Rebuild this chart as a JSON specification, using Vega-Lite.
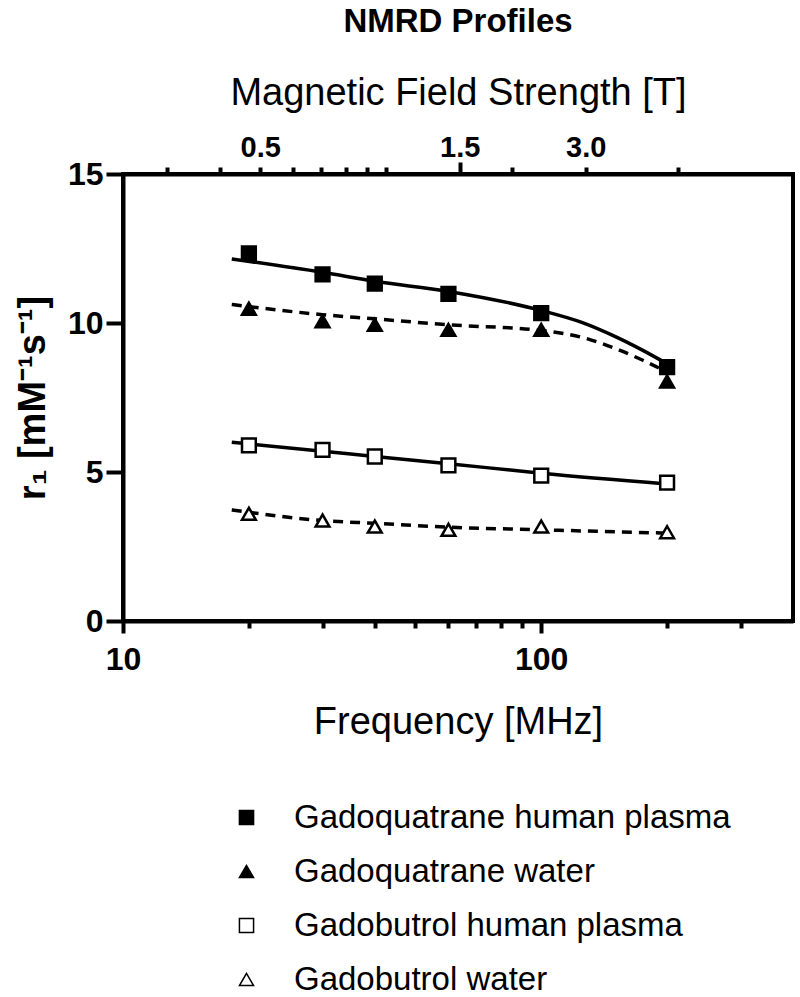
{
  "$schema": "https://vega.github.io/schema/vega-lite/v6.json",
  "autosize": {"type": "none"},
  "padding": {"left": 123, "top": 174, "right": 7, "bottom": 376},
  "width": 670,
  "height": 447,
  "title": {"text": "NMRD Profiles", "fontSize": 33, "fontWeight": "bold", "font": "Liberation Sans", "anchor": "middle", "offset": 35, "color": "black"},
  "config": {
    "font": "Liberation Sans",
    "view": {"stroke": "black", "strokeWidth": 4},
    "axis": {"domainColor": "black", "domainWidth": 4, "tickColor": "black", "tickWidth": 4, "labelColor": "black", "titleColor": "black", "grid": false, "labelFont": "Liberation Sans", "titleFont": "Liberation Sans", "labelFlush": false}
  },
  "datasets": {
    "points": [
      {"series": "Gadoquatrane human plasma", "freq": 20, "r1": 12.34},
      {"series": "Gadoquatrane human plasma", "freq": 30, "r1": 11.63},
      {"series": "Gadoquatrane human plasma", "freq": 40, "r1": 11.32},
      {"series": "Gadoquatrane human plasma", "freq": 60, "r1": 10.98},
      {"series": "Gadoquatrane human plasma", "freq": 100, "r1": 10.33},
      {"series": "Gadoquatrane human plasma", "freq": 200, "r1": 8.52},
      {"series": "Gadoquatrane water", "freq": 20, "r1": 10.48},
      {"series": "Gadoquatrane water", "freq": 30, "r1": 10.06},
      {"series": "Gadoquatrane water", "freq": 40, "r1": 9.94},
      {"series": "Gadoquatrane water", "freq": 60, "r1": 9.77},
      {"series": "Gadoquatrane water", "freq": 100, "r1": 9.77},
      {"series": "Gadoquatrane water", "freq": 200, "r1": 8.04},
      {"series": "Gadobutrol human plasma", "freq": 20, "r1": 5.89},
      {"series": "Gadobutrol human plasma", "freq": 30, "r1": 5.74},
      {"series": "Gadobutrol human plasma", "freq": 40, "r1": 5.52},
      {"series": "Gadobutrol human plasma", "freq": 60, "r1": 5.22},
      {"series": "Gadobutrol human plasma", "freq": 100, "r1": 4.88},
      {"series": "Gadobutrol human plasma", "freq": 200, "r1": 4.64},
      {"series": "Gadobutrol water", "freq": 20, "r1": 3.60},
      {"series": "Gadobutrol water", "freq": 30, "r1": 3.37},
      {"series": "Gadobutrol water", "freq": 40, "r1": 3.17},
      {"series": "Gadobutrol water", "freq": 60, "r1": 3.06},
      {"series": "Gadobutrol water", "freq": 100, "r1": 3.17},
      {"series": "Gadobutrol water", "freq": 200, "r1": 2.98}
    ],
    "fits": [
      {"curve": "Gadoquatrane human plasma", "medium": "plasma", "freq": 18.2, "r1": 12.15},
      {"curve": "Gadoquatrane human plasma", "medium": "plasma", "freq": 30, "r1": 11.70},
      {"curve": "Gadoquatrane human plasma", "medium": "plasma", "freq": 40, "r1": 11.40},
      {"curve": "Gadoquatrane human plasma", "medium": "plasma", "freq": 60, "r1": 11.06},
      {"curve": "Gadoquatrane human plasma", "medium": "plasma", "freq": 100, "r1": 10.42},
      {"curve": "Gadoquatrane human plasma", "medium": "plasma", "freq": 125, "r1": 10.02},
      {"curve": "Gadoquatrane human plasma", "medium": "plasma", "freq": 150, "r1": 9.55},
      {"curve": "Gadoquatrane human plasma", "medium": "plasma", "freq": 175, "r1": 9.08},
      {"curve": "Gadoquatrane human plasma", "medium": "plasma", "freq": 200, "r1": 8.63},
      {"curve": "Gadoquatrane water", "medium": "water", "freq": 18.2, "r1": 10.62},
      {"curve": "Gadoquatrane water", "medium": "water", "freq": 30, "r1": 10.28},
      {"curve": "Gadoquatrane water", "medium": "water", "freq": 40, "r1": 10.14},
      {"curve": "Gadoquatrane water", "medium": "water", "freq": 60, "r1": 9.94},
      {"curve": "Gadoquatrane water", "medium": "water", "freq": 100, "r1": 9.75},
      {"curve": "Gadoquatrane water", "medium": "water", "freq": 125, "r1": 9.52},
      {"curve": "Gadoquatrane water", "medium": "water", "freq": 150, "r1": 9.15},
      {"curve": "Gadoquatrane water", "medium": "water", "freq": 175, "r1": 8.75},
      {"curve": "Gadoquatrane water", "medium": "water", "freq": 200, "r1": 8.35},
      {"curve": "Gadobutrol human plasma", "medium": "plasma", "freq": 18.2, "r1": 6.00},
      {"curve": "Gadobutrol human plasma", "medium": "plasma", "freq": 30, "r1": 5.70},
      {"curve": "Gadobutrol human plasma", "medium": "plasma", "freq": 40, "r1": 5.52},
      {"curve": "Gadobutrol human plasma", "medium": "plasma", "freq": 60, "r1": 5.28},
      {"curve": "Gadobutrol human plasma", "medium": "plasma", "freq": 100, "r1": 4.96},
      {"curve": "Gadobutrol human plasma", "medium": "plasma", "freq": 200, "r1": 4.60},
      {"curve": "Gadobutrol water", "medium": "water", "freq": 18.2, "r1": 3.73},
      {"curve": "Gadobutrol water", "medium": "water", "freq": 30, "r1": 3.37},
      {"curve": "Gadobutrol water", "medium": "water", "freq": 40, "r1": 3.28},
      {"curve": "Gadobutrol water", "medium": "water", "freq": 60, "r1": 3.15},
      {"curve": "Gadobutrol water", "medium": "water", "freq": 100, "r1": 3.06},
      {"curve": "Gadobutrol water", "medium": "water", "freq": 200, "r1": 2.95}
    ],
    "tesla": [{"T": 0.5}]
  },
  "layer": [
    {
      "data": {"name": "fits"},
      "transform": [{"filter": "datum.medium == 'plasma'"}],
      "mark": {"type": "line", "color": "black", "strokeWidth": 3.5, "interpolate": "monotone"},
      "encoding": {
        "x": {"field": "freq", "type": "quantitative",
          "scale": {"type": "log", "domain": [10, 400], "nice": false},
          "axis": {"orient": "bottom", "title": "Frequency [MHz]", "titleFontSize": 38, "titleFontWeight": "normal", "titlePadding": 28,
            "values": [10, 20, 30, 40, 50, 60, 70, 80, 90, 100, 200, 300],
            "labelExpr": "datum.value == 10 || datum.value == 100 ? format(datum.value, 'd') : ''",
            "labelFontSize": 32, "labelFontWeight": "bold", "labelPadding": 11,
            "tickSize": {"condition": {"test": "datum.value == 10 || datum.value == 100", "value": 12}, "value": 7}}},
        "y": {"field": "r1", "type": "quantitative",
          "scale": {"domain": [0, 15], "nice": false},
          "axis": {"title": "r₁ [mM⁻¹s⁻¹]", "titleFontSize": 38, "titleFontWeight": "bold", "titlePadding": 15,
            "values": [0, 5, 10, 15], "labelFontSize": 32, "labelFontWeight": "bold", "tickSize": 17, "labelPadding": 3}},
        "detail": {"field": "curve"}
      }
    },
    {
      "data": {"name": "fits"},
      "transform": [{"filter": "datum.medium == 'water'"}],
      "mark": {"type": "line", "color": "black", "strokeWidth": 3.5, "interpolate": "monotone", "strokeDash": [10, 7]},
      "encoding": {
        "x": {"field": "freq", "type": "quantitative", "scale": {"type": "log", "domain": [10, 400], "nice": false}, "axis": null},
        "y": {"field": "r1", "type": "quantitative"},
        "detail": {"field": "curve"}
      }
    },
    {
      "data": {"name": "points"},
      "mark": {"type": "point", "filled": true, "stroke": "black", "strokeWidth": 2.5, "size": 190, "opacity": 1},
      "encoding": {
        "x": {"field": "freq", "type": "quantitative", "scale": {"type": "log", "domain": [10, 400], "nice": false}, "axis": null},
        "y": {"field": "r1", "type": "quantitative"},
        "shape": {"field": "series", "type": "nominal",
          "scale": {"domain": ["Gadoquatrane human plasma", "Gadoquatrane water", "Gadobutrol human plasma", "Gadobutrol water"],
            "range": ["square", "triangle-up", "square", "triangle-up"]},
          "legend": {"orient": "none", "legendX": 107, "legendY": 627, "padding": 0, "title": null, "labelFontSize": 33, "labelColor": "black", "labelOffset": 31, "rowPadding": 20, "symbolSize": 200, "labelLimit": 700,
            "encode": {"symbols": {"update": {"stroke": {"value": "black"}, "strokeWidth": {"value": 2}}}}}},
        "fill": {"field": "series", "type": "nominal",
          "scale": {"domain": ["Gadoquatrane human plasma", "Gadoquatrane water", "Gadobutrol human plasma", "Gadobutrol water"],
            "range": ["black", "black", "white", "white"]},
          "legend": {"orient": "none", "legendX": 107, "legendY": 627, "padding": 0, "title": null, "labelFontSize": 33, "labelColor": "black", "labelOffset": 31, "rowPadding": 20, "symbolSize": 200, "labelLimit": 700,
            "encode": {"symbols": {"update": {"stroke": {"value": "black"}, "strokeWidth": {"value": 2}}}}}}
      }
    },
    {
      "data": {"name": "tesla"},
      "mark": {"type": "point", "opacity": 0},
      "encoding": {
        "x": {"field": "T", "type": "quantitative",
          "scale": {"type": "log", "domain": [0.23487, 9.3947], "nice": false},
          "axis": {"orient": "top", "title": "Magnetic Field Strength [T]", "titleFontSize": 38, "titleFontWeight": "normal", "titlePadding": 21,
            "values": [0.3, 0.4, 0.5, 0.6, 0.7, 0.8, 0.9, 1, 1.5, 2, 3, 5],
            "labelExpr": "datum.value == 0.5 || datum.value == 1.5 || datum.value == 3 ? format(datum.value, '.1f') : ''",
            "labelFontSize": 29, "labelFontWeight": "bold",
            "labelPadding": {"condition": {"test": "datum.value == 1.5", "value": 0}, "value": 5},
            "tickSize": {"condition": {"test": "datum.value == 1.5", "value": 12}, "value": 7}}}
      }
    }
  ],
  "resolve": {"scale": {"x": "independent"}}
}
